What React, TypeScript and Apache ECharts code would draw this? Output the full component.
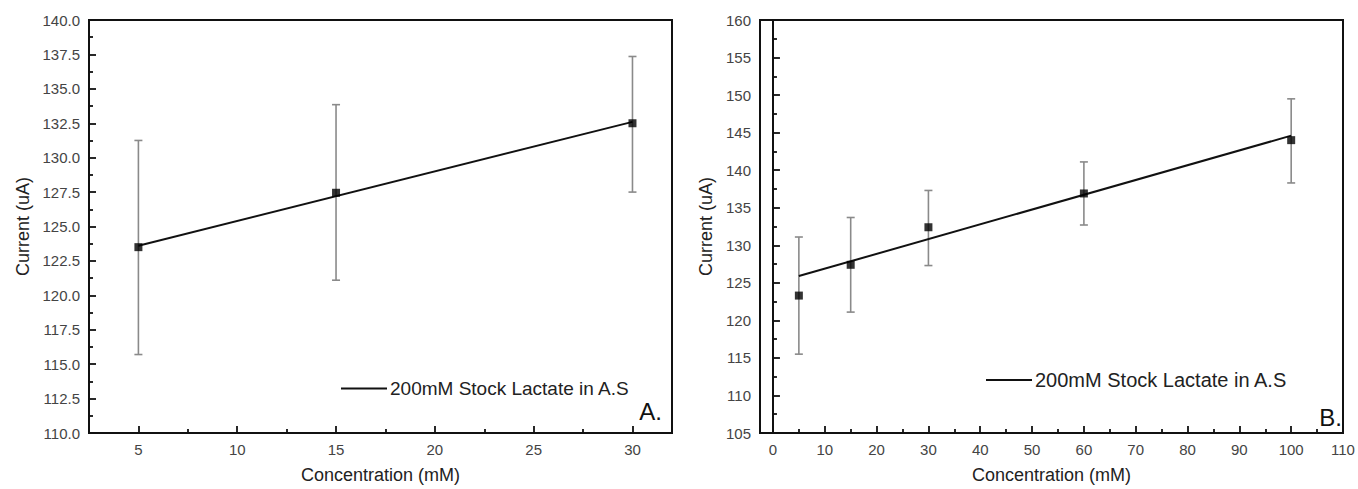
import React, { useEffect, useRef } from "react";
import * as echarts from "echarts";

const seriesName = "200mM Stock Lactate in A.S";

// Panel A
const concA = [5, 15, 30];
const meanA = [123.5, 127.45, 132.5];
const errHighA = [131.25, 133.85, 137.35];
const errLowA = [115.7, 121.1, 127.5];
const fitXA = [5, 30];
const fitYA = [123.6, 132.6];

// Panel B
const concB = [5, 15, 30, 60, 100];
const meanB = [123.3, 127.4, 132.4, 136.9, 144.0];
const errHighB = [131.1, 133.7, 137.3, 141.1, 149.5];
const errLowB = [115.5, 121.1, 127.3, 132.7, 138.3];
const fitXB = [5, 100];
const fitYB = [125.9, 144.6];

const FONT = "'Liberation Sans', Arial, sans-serif";

function errorRender(params: any, api: any) {
  const x = api.value(0);
  const lo = api.value(1);
  const hi = api.value(2);
  const top = api.coord([x, hi]);
  const bot = api.coord([x, lo]);
  const hw = 4;
  const style = { stroke: "#8a8a8a", lineWidth: 1.6 };
  return {
    type: "group",
    children: [
      { type: "line", shape: { x1: top[0], y1: top[1], x2: bot[0], y2: bot[1] }, style },
      { type: "line", shape: { x1: top[0] - hw, y1: top[1], x2: top[0] + hw, y2: top[1] }, style },
      { type: "line", shape: { x1: bot[0] - hw, y1: bot[1], x2: bot[0] + hw, y2: bot[1] }, style },
    ],
  };
}

function xAxisBase(gridIndex: number, min: number, max: number, split: number, step: number) {
  return {
    type: "value",
    gridIndex,
    min,
    max,
    splitNumber: split,
    name: "Concentration (mM)",
    nameLocation: "middle",
    nameGap: 33,
    nameTextStyle: { fontSize: 18, color: "#222", fontFamily: FONT },
    axisLine: { show: true, lineStyle: { color: "#111", width: 2 } },
    axisTick: { show: true, inside: true, length: 7, lineStyle: { color: "#111", width: 1.8 } },
    minorTick: { show: true, splitNumber: 2, length: 4, lineStyle: { color: "#111", width: 1.8 } },
    splitLine: { show: false },
    minorSplitLine: { show: false },
    axisLabel: {
      margin: 9,
      fontSize: 15,
      color: "#444",
      fontFamily: FONT,
      formatter: (v: number) => (Math.abs(v / step - Math.round(v / step)) < 1e-6 ? String(v) : ""),
    },
  };
}

function yAxisBase(gridIndex: number, min: number, max: number, interval: number, gap: number, dec: number) {
  return {
    type: "value",
    gridIndex,
    min,
    max,
    interval,
    name: "Current (uA)",
    nameLocation: "middle",
    nameGap: gap,
    nameTextStyle: { fontSize: 18, color: "#222", fontFamily: FONT },
    axisLine: { show: true, lineStyle: { color: "#111", width: 2 } },
    axisTick: { show: true, inside: true, length: 7, lineStyle: { color: "#111", width: 1.8 } },
    minorTick: { show: true, splitNumber: 2, length: 4, lineStyle: { color: "#111", width: 1.8 } },
    splitLine: { show: false },
    minorSplitLine: { show: false },
    axisLabel: {
      margin: 9,
      fontSize: 15,
      color: "#444",
      fontFamily: FONT,
      formatter: (v: number) => v.toFixed(dec),
    },
  };
}

function legendAt(left: number, top: number, fontSize: number) {
  return {
    data: [seriesName],
    left,
    top,
    orient: "horizontal",
    selectedMode: false,
    icon: "rect",
    itemWidth: 46,
    itemHeight: 2,
    itemStyle: { color: "#111" },
    textStyle: { fontSize, color: "#222", fontFamily: FONT, padding: [0, 0, 0, -2] },
  };
}

export default function App() {
  const ref = useRef<HTMLDivElement>(null);

  useEffect(() => {
    if (!ref.current) return;
    const chart = echarts.init(ref.current, undefined, { renderer: "svg" });

    const errA = concA.map((x, i) => [x, errLowA[i], errHighA[i]]);
    const errB = concB.map((x, i) => [x, errLowB[i], errHighB[i]]);
    const ptsA = concA.map((x, i) => [x, meanA[i]]);
    const ptsB = concB.map((x, i) => [x, meanB[i]]);
    const lineA = fitXA.map((x, i) => [x, fitYA[i]]);
    const lineB = fitXB.map((x, i) => [x, fitYB[i]]);

    const option: any = {
      animation: false,
      backgroundColor: "#ffffff",
      grid: [
        { left: 89, top: 20, width: 583, height: 416, show: true, borderColor: "#111", borderWidth: 2, backgroundColor: "transparent" },
        { left: 760, top: 20, width: 583, height: 416, show: true, borderColor: "#111", borderWidth: 2, backgroundColor: "transparent" },
      ],
      xAxis: [xAxisBase(0, 2.5, 32, 6, 5), xAxisBase(1, -2.5, 110, 11, 10)],
      yAxis: [yAxisBase(0, 110, 140, 2.5, 57, 1), yAxisBase(1, 105, 160, 5, 45, 0)],
      legend: [legendAt(336, 374, 19), legendAt(981, 365, 20)],
      graphic: [
        {
          type: "text",
          x: 662,
          y: 411,
          style: { text: "A.", font: `24px ${FONT}`, fill: "#111", align: "right", verticalAlign: "middle" },
        },
        {
          type: "text",
          x: 1342,
          y: 417,
          style: { text: "B.", font: `24px ${FONT}`, fill: "#111", align: "right", verticalAlign: "middle" },
        },
      ],
      series: [
        {
          type: "custom",
          name: "errA",
          xAxisIndex: 0,
          yAxisIndex: 0,
          renderItem: errorRender,
          encode: { x: 0, y: [1, 2] },
          data: errA,
          z: 1,
        },
        {
          type: "line",
          name: seriesName,
          xAxisIndex: 0,
          yAxisIndex: 0,
          data: lineA,
          symbol: "none",
          lineStyle: { color: "#111", width: 2 },
          itemStyle: { color: "#111" },
          z: 2,
        },
        {
          type: "scatter",
          name: "ptsA",
          xAxisIndex: 0,
          yAxisIndex: 0,
          data: ptsA,
          symbol: "rect",
          symbolSize: 8,
          itemStyle: { color: "#000" },
          z: 3,
        },
        {
          type: "custom",
          name: "errB",
          xAxisIndex: 1,
          yAxisIndex: 1,
          renderItem: errorRender,
          encode: { x: 0, y: [1, 2] },
          data: errB,
          z: 1,
        },
        {
          type: "line",
          name: seriesName,
          xAxisIndex: 1,
          yAxisIndex: 1,
          data: lineB,
          symbol: "none",
          lineStyle: { color: "#111", width: 2 },
          itemStyle: { color: "#111" },
          z: 2,
        },
        {
          type: "scatter",
          name: "ptsB",
          xAxisIndex: 1,
          yAxisIndex: 1,
          data: ptsB,
          symbol: "rect",
          symbolSize: 8,
          itemStyle: { color: "#000" },
          z: 3,
        },
      ],
    };

    chart.setOption(option);
    return () => {
      chart.dispose();
    };
  }, []);

  return (
    <div
      ref={ref}
      style={{ position: "absolute", left: 0, top: 0, width: 1358, height: 489, background: "#fff" }}
    />
  );
}
